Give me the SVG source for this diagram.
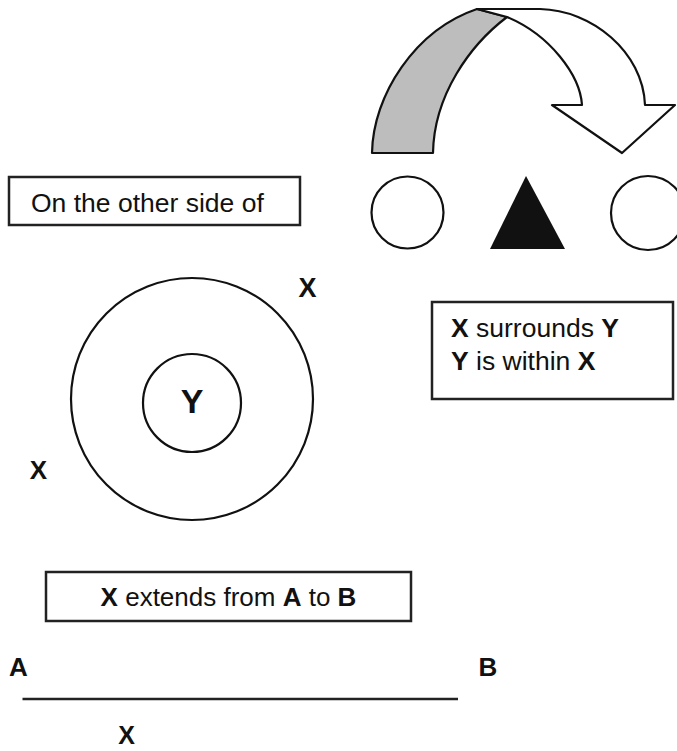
<svg xmlns="http://www.w3.org/2000/svg" width="677" height="751" viewBox="0 0 677 751">
<style>
.sh{stroke:#111;stroke-width:2.2;stroke-linejoin:round}
.box{fill:#fff;stroke:#222;stroke-width:2.5}
.t{font-family:"Liberation Sans",Arial,sans-serif;fill:#111}
.b{font-weight:bold}
</style>
<rect width="677" height="751" fill="#fff"/>
<g id="curved-arrow">
<path class="sh" fill="#bdbdbd" d="M372,153 C373,95 415,30 477,9 L507,17 C470,45 434,95 433,153 Z"/>
<path class="sh" fill="#fff" d="M477,9 L540,9 C592,10 643,52 645,105 L675,105 L622,153 L552,105 L582,105 C580,75 550,35 507,17 Z"/>
</g>
<g id="circle-left"><circle class="sh" fill="#fff" cx="407.5" cy="212.5" r="36"/></g>
<g id="triangle"><polygon fill="#111" points="526,176 490,249 565,249"/></g>
<g id="circle-right"><circle class="sh" fill="#fff" cx="648" cy="213" r="37"/></g>
<g id="box-other-side">
<rect class="box" x="9" y="177" width="291" height="48"/>
<text class="t" x="31" y="212" font-size="26.5">On the other side of</text>
</g>
<g id="outer-circle"><circle class="sh" fill="none" cx="192" cy="399" r="121"/></g>
<g id="inner-circle">
<circle class="sh" fill="none" cx="192" cy="403" r="49"/>
<text class="t b" x="192" y="413" font-size="34" text-anchor="middle">Y</text>
</g>
<g id="label-x-top"><text class="t b" x="307.5" y="297" font-size="27" text-anchor="middle">X</text></g>
<g id="label-x-left"><text class="t b" x="38.5" y="479" font-size="26" text-anchor="middle">X</text></g>
<g id="box-surrounds">
<rect class="box" x="432" y="302" width="241" height="97"/>
<text class="t" x="451" y="337" font-size="26.5"><tspan class="b">X</tspan> surrounds <tspan class="b">Y</tspan></text>
<text class="t" x="451" y="370" font-size="26.5"><tspan class="b">Y</tspan> is within <tspan class="b">X</tspan></text>
</g>
<g id="box-extends">
<rect class="box" x="46" y="572" width="365" height="49"/>
<text class="t" x="228.5" y="606" font-size="26" text-anchor="middle"><tspan class="b">X</tspan> extends from <tspan class="b">A</tspan> to <tspan class="b">B</tspan></text>
</g>
<g id="label-a"><text class="t b" x="18.5" y="676" font-size="26" text-anchor="middle">A</text></g>
<g id="label-b"><text class="t b" x="488" y="676" font-size="26" text-anchor="middle">B</text></g>
<g id="connectors">
<line x1="22.5" y1="699" x2="458" y2="699" stroke="#222" stroke-width="2.5"/>
</g>
<g id="label-x-bottom"><text class="t b" x="126.5" y="744" font-size="25" text-anchor="middle">X</text></g>
</svg>
